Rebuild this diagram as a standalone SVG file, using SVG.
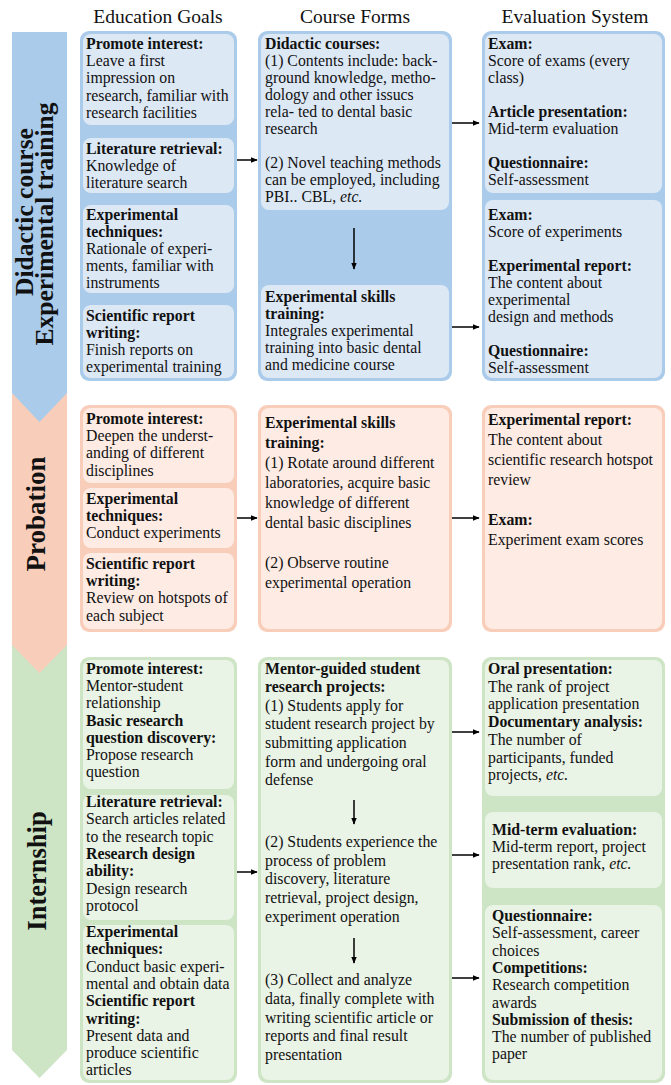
<svg xmlns="http://www.w3.org/2000/svg" width="671" height="1085" viewBox="0 0 671 1085">
<style>
text{font-family:"Liberation Serif","Times New Roman",serif;fill:#111;}
.h{font-size:19.5px;text-anchor:middle;}
.t{font-size:15.8px;}
.b{font-weight:bold;}
.i{font-style:italic;}
.lab{font-size:25.5px;font-weight:bold;text-anchor:middle;}
.bB{fill:#aacbea;}
.bL{fill:#dde8f5;}
.sB{fill:#f8cebb;}
.sL{fill:#fdebe4;}
.gB{fill:#cde5c5;}
.gL{fill:#e9f3e6;}
.c line{stroke:#000;stroke-width:1.5;}
</style>
<defs>
<marker id="ah" viewBox="0 0 10 10" refX="9" refY="5" markerWidth="7" markerHeight="7" markerUnits="userSpaceOnUse" orient="auto">
<path d="M0,1 L10,5 L0,9 Z" fill="#000"/>
</marker>
</defs>

<g id="headers">
<text class="h" x="158" y="23">Education Goals</text>
<text class="h" x="355" y="23">Course Forms</text>
<text class="h" x="575" y="23">Evaluation System</text>
</g>

<g id="banners">
<polygon class="gB" points="12,645 67,645 67,1050 39.5,1078 12,1050"/>
<polygon class="sB" points="12,393 67,393 67,645 39.5,673 12,645"/>
<polygon class="bB" points="12,32 67,32 67,393 39.5,422 12,393"/>
<text class="lab" transform="translate(33,212) rotate(-90)">Didactic course</text>
<text class="lab" transform="translate(53,224) rotate(-90)">Experimental training</text>
<text class="lab" style="font-size:27px" transform="translate(45,514) rotate(-90)">Probation</text>
<text class="lab" style="font-size:26.5px" transform="translate(46,871) rotate(-90)">Internship</text>
</g>

<!-- Blue section -->
<g id="blue-goals">
<rect class="bB" x="80" y="31" width="157" height="350" rx="9"/>
<rect class="bL" x="83" y="34" width="151" height="91" rx="8"/>
<rect class="bL" x="83" y="138" width="151" height="55" rx="8"/>
<rect class="bL" x="83" y="205" width="151" height="88" rx="8"/>
<rect class="bL" x="83" y="305" width="151" height="73" rx="8"/>
<text class="t" x="86" y="49"><tspan class="b">Promote interest:</tspan><tspan x="86" dy="17.2">Leave a first</tspan><tspan x="86" dy="17.2">impression on</tspan><tspan x="86" dy="17.2">research, familiar with</tspan><tspan x="86" dy="17.2">research facilities</tspan></text>
<text class="t" x="86" y="154"><tspan class="b">Literature retrieval:</tspan><tspan x="86" dy="17">Knowledge of</tspan><tspan x="86" dy="17">literature search</tspan></text>
<text class="t" x="86" y="220"><tspan class="b">Experimental</tspan><tspan class="b" x="86" dy="17">techniques:</tspan><tspan x="86" dy="17">Rationale of experi-</tspan><tspan x="86" dy="17">ments, familiar with</tspan><tspan x="86" dy="17">instruments</tspan></text>
<text class="t" x="86" y="321"><tspan class="b">Scientific report</tspan><tspan class="b" x="86" dy="17">writing:</tspan><tspan x="86" dy="17">Finish reports on</tspan><tspan x="86" dy="17">experimental training</tspan></text>
</g>

<g id="blue-forms">
<rect class="bB" x="258" y="31" width="194" height="350" rx="9"/>
<rect class="bL" x="261" y="34" width="188" height="176" rx="8"/>
<rect class="bL" x="261" y="285" width="188" height="93" rx="8"/>
<text class="t" x="265" y="49"><tspan class="b">Didactic courses:</tspan><tspan x="265" dy="17">(1) Contents include: back-</tspan><tspan x="265" dy="17">ground knowledge, metho-</tspan><tspan x="265" dy="17">dology and other issucs</tspan><tspan x="265" dy="17">rela- ted to dental basic</tspan><tspan x="265" dy="17">research</tspan><tspan x="265" dy="34">(2) Novel teaching methods</tspan><tspan x="265" dy="17">can be employed, including</tspan><tspan x="265" dy="17">PBI.. CBL, </tspan><tspan class="i">etc.</tspan></text>
<text class="t" x="265" y="302"><tspan class="b">Experimental skills</tspan><tspan class="b" x="265" dy="17">training:</tspan><tspan x="265" dy="17">Integrales experimental</tspan><tspan x="265" dy="17">training into basic dental</tspan><tspan x="265" dy="17">and medicine course</tspan></text>
</g>

<g id="blue-eval">
<rect class="bB" x="482" y="31" width="183" height="350" rx="9"/>
<rect class="bL" x="485" y="34" width="177" height="159" rx="8"/>
<rect class="bL" x="485" y="200" width="177" height="178" rx="8"/>
<text class="t" x="488" y="49"><tspan class="b">Exam:</tspan><tspan x="488" dy="17">Score of exams (every</tspan><tspan x="488" dy="17">class)</tspan><tspan class="b" x="488" dy="34">Article presentation:</tspan><tspan x="488" dy="17">Mid-term evaluation</tspan><tspan class="b" x="488" dy="34">Questionnaire:</tspan><tspan x="488" dy="17">Self-assessment</tspan></text>
<text class="t" x="488" y="220"><tspan class="b">Exam:</tspan><tspan x="488" dy="17">Score of experiments</tspan><tspan class="b" x="488" dy="34">Experimental report:</tspan><tspan x="488" dy="17">The content about</tspan><tspan x="488" dy="17">experimental</tspan><tspan x="488" dy="17">design and methods</tspan><tspan class="b" x="488" dy="34">Questionnaire:</tspan><tspan x="488" dy="17">Self-assessment</tspan></text>
</g>

<!-- Salmon section -->
<g id="probation-goals">
<rect class="sB" x="80" y="405" width="157" height="227" rx="9"/>
<rect class="sL" x="83" y="408" width="151" height="75" rx="8"/>
<rect class="sL" x="83" y="488" width="151" height="60" rx="8"/>
<rect class="sL" x="83" y="553" width="151" height="76" rx="8"/>
<text class="t" x="86" y="424"><tspan class="b">Promote interest:</tspan><tspan x="86" dy="17.2">Deepen the underst-</tspan><tspan x="86" dy="17.2">anding of different</tspan><tspan x="86" dy="17.2">disciplines</tspan></text>
<text class="t" x="86" y="504"><tspan class="b">Experimental</tspan><tspan class="b" x="86" dy="17.2">techniques:</tspan><tspan x="86" dy="17.2">Conduct experiments</tspan></text>
<text class="t" x="86" y="569"><tspan class="b">Scientific report</tspan><tspan class="b" x="86" dy="17.2">writing:</tspan><tspan x="86" dy="17.2">Review on hotspots of</tspan><tspan x="86" dy="17.2">each subject</tspan></text>
</g>

<g id="probation-forms">
<rect class="sB" x="258" y="405" width="194" height="227" rx="9"/>
<rect class="sL" x="261" y="408" width="188" height="221" rx="8"/>
<text class="t" x="265" y="428"><tspan class="b">Experimental skills</tspan><tspan class="b" x="265" dy="20">training:</tspan><tspan x="265" dy="20">(1) Rotate around different</tspan><tspan x="265" dy="20">laboratories, acquire basic</tspan><tspan x="265" dy="20">knowledge of different</tspan><tspan x="265" dy="20">dental basic disciplines</tspan><tspan x="265" dy="40">(2) Observe routine</tspan><tspan x="265" dy="20">experimental operation</tspan></text>
</g>

<g id="probation-eval">
<rect class="sB" x="482" y="405" width="183" height="227" rx="9"/>
<rect class="sL" x="485" y="408" width="177" height="221" rx="8"/>
<text class="t" x="488" y="425"><tspan class="b">Experimental report:</tspan><tspan x="488" dy="20">The content about</tspan><tspan x="488" dy="20">scientific research hotspot</tspan><tspan x="488" dy="20">review</tspan><tspan class="b" x="488" dy="40">Exam:</tspan><tspan x="488" dy="20">Experiment exam scores</tspan></text>
</g>

<!-- Green section -->
<g id="internship-goals">
<rect class="gB" x="80" y="657" width="157" height="426" rx="9"/>
<rect class="gL" x="83" y="660" width="151" height="129" rx="8"/>
<rect class="gL" x="83" y="795" width="151" height="125" rx="8"/>
<rect class="gL" x="83" y="925" width="151" height="155" rx="8"/>
<text class="t" x="86" y="674"><tspan class="b">Promote interest:</tspan><tspan x="86" dy="17.2">Mentor-student</tspan><tspan x="86" dy="17.2">relationship</tspan><tspan class="b" x="86" dy="17.2">Basic research</tspan><tspan class="b" x="86" dy="17.2">question discovery:</tspan><tspan x="86" dy="17.2">Propose research</tspan><tspan x="86" dy="17.2">question</tspan></text>
<text class="t" x="86" y="807"><tspan class="b">Literature retrieval:</tspan><tspan x="86" dy="17.3">Search articles related</tspan><tspan x="86" dy="17.3">to the research topic</tspan><tspan class="b" x="86" dy="17.3">Research design</tspan><tspan class="b" x="86" dy="17.3">ability:</tspan><tspan x="86" dy="17.3">Design research</tspan><tspan x="86" dy="17.3">protocol</tspan></text>
<text class="t" x="86" y="937"><tspan class="b">Experimental</tspan><tspan class="b" x="86" dy="17.3">techniques:</tspan><tspan x="86" dy="17.3">Conduct basic experi-</tspan><tspan x="86" dy="17.3">mental and obtain data</tspan><tspan class="b" x="86" dy="17.3">Scientific report</tspan><tspan class="b" x="86" dy="17.3">writing:</tspan><tspan x="86" dy="17.3">Present data and</tspan><tspan x="86" dy="17.3">produce scientific</tspan><tspan x="86" dy="17.3">articles</tspan></text>
</g>

<g id="internship-forms">
<rect class="gB" x="258" y="657" width="194" height="426" rx="9"/>
<rect class="gL" x="261" y="660" width="188" height="420" rx="8"/>
<text class="t" x="265" y="674"><tspan class="b">Mentor-guided student</tspan><tspan class="b" x="265" dy="18">research projects:</tspan><tspan x="265" dy="18.5">(1) Students apply for</tspan><tspan x="265" dy="18.7">student research project by</tspan><tspan x="265" dy="18.7">submitting application</tspan><tspan x="265" dy="18.7">form and undergoing oral</tspan><tspan x="265" dy="18.7">defense</tspan></text>
<text class="t" x="265" y="847"><tspan>(2) Students experience the</tspan><tspan x="265" dy="18.7">process of problem</tspan><tspan x="265" dy="18.7">discovery, literature</tspan><tspan x="265" dy="18.7">retrieval, project design,</tspan><tspan x="265" dy="18.7">experiment operation</tspan></text>
<text class="t" x="265" y="985"><tspan>(3) Collect and analyze</tspan><tspan x="265" dy="18.8">data, finally complete with</tspan><tspan x="265" dy="18.8">writing scientific article or</tspan><tspan x="265" dy="18.8">reports and final result</tspan><tspan x="265" dy="18.8">presentation</tspan></text>
</g>

<g id="internship-eval">
<rect class="gB" x="482" y="657" width="183" height="426" rx="9"/>
<rect class="gL" x="485" y="660" width="177" height="136" rx="8"/>
<rect class="gL" x="485" y="812" width="177" height="76" rx="8"/>
<rect class="gL" x="485" y="905" width="177" height="175" rx="8"/>
<text class="t" x="488" y="674"><tspan class="b">Oral presentation:</tspan><tspan x="488" dy="17.7">The rank of project</tspan><tspan x="488" dy="17.7">application presentation</tspan><tspan class="b" x="488" dy="17.7">Documentary analysis:</tspan><tspan x="488" dy="17.7">The number of</tspan><tspan x="488" dy="17.7">participants, funded</tspan><tspan x="488" dy="17.7">projects, </tspan><tspan class="i">etc.</tspan></text>
<text class="t" x="492" y="835"><tspan class="b">Mid-term evaluation:</tspan><tspan x="492" dy="17">Mid-term report, project</tspan><tspan x="492" dy="17">presentation rank, </tspan><tspan class="i">etc.</tspan></text>
<text class="t" x="492" y="921"><tspan class="b">Questionnaire:</tspan><tspan x="492" dy="17.3">Self-assessment, career</tspan><tspan x="492" dy="17.3">choices</tspan><tspan class="b" x="492" dy="17.3">Competitions:</tspan><tspan x="492" dy="17.3">Research competition</tspan><tspan x="492" dy="17.3">awards</tspan><tspan class="b" x="492" dy="17.3">Submission of thesis:</tspan><tspan x="492" dy="17.3">The number of published</tspan><tspan x="492" dy="17.3">paper</tspan></text>
</g>

<g id="connectors" class="c">
<line x1="237" y1="160" x2="257" y2="160" marker-end="url(#ah)"/>
<line x1="452" y1="123" x2="479" y2="123" marker-end="url(#ah)"/>
<line x1="452" y1="327" x2="479" y2="327" marker-end="url(#ah)"/>
<line x1="354" y1="228" x2="354" y2="269" marker-end="url(#ah)"/>
<line x1="237" y1="518" x2="257" y2="518" marker-end="url(#ah)"/>
<line x1="452" y1="518" x2="479" y2="518" marker-end="url(#ah)"/>
<line x1="237" y1="872" x2="257" y2="872" marker-end="url(#ah)"/>
<line x1="452" y1="732" x2="479" y2="732" marker-end="url(#ah)"/>
<line x1="452" y1="855" x2="479" y2="855" marker-end="url(#ah)"/>
<line x1="452" y1="978" x2="479" y2="978" marker-end="url(#ah)"/>
<line x1="354" y1="800" x2="354" y2="824" marker-end="url(#ah)"/>
<line x1="354" y1="938" x2="354" y2="963" marker-end="url(#ah)"/>
</g>
</svg>
